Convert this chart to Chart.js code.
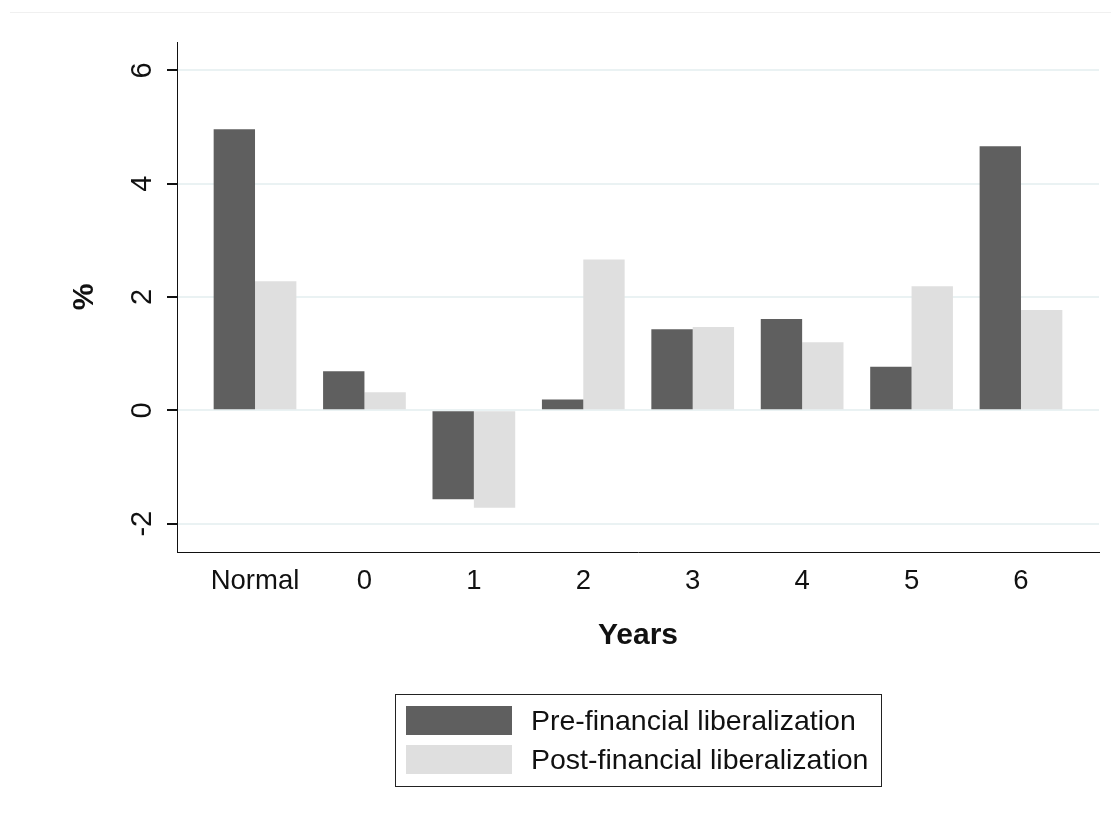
<!DOCTYPE html>
<html>
<head>
<meta charset="utf-8">
<title>Growth around financial liberalization</title>
<script src="https://cdn.jsdelivr.net/npm/chart.js@4.4.0/dist/chart.umd.min.js"></script>
<style>
    body { margin: 0; background: #fff; }
    #wrap { position: relative; width: 1111px; height: 816px; }
    #topline { position: absolute; left: 10px; right: 0; top: 12px; border-top: 1px solid #f0f0f0; }
    #legend {
        position: absolute; left: 395px; top: 694px; width: 485px; height: 91px;
        border: 1px solid #222;
        font-family: "Liberation Sans", Arial, sans-serif; font-size: 28.5px; color: #111;
    }
    .item { position: absolute; left: 10px; height: 29px; display: flex; align-items: center; white-space: nowrap; }
    .swatch { width: 106px; height: 29px; margin-right: 19px; }
</style>
</head>
<body>
<div id="wrap">
    <div id="topline"></div>
    <canvas id="chart" width="1111" height="816"></canvas>
    <div id="legend"></div>
</div>

<script>
const categories = ["Normal", "0", "1", "2", "3", "4", "5", "6"];
const preValues = [4.96, 0.69, -1.57, 0.19, 1.43, 1.61, 0.77, 4.66];
const postValues = [2.28, 0.32, -1.72, 2.66, 1.47, 1.20, 2.19, 1.77];
const yTicks = [-2, 0, 2, 4, 6];
const seriesNames = ["Pre-financial liberalization", "Post-financial liberalization"];
const seriesColors = ["#5f5f5f", "#dfdfdf"];

const font = "'Liberation Sans', Arial, sans-serif";

function toPoints(values) {
    return values.map((v, i) => ({ x: i, y: v }));
}

const ctx = document.getElementById("chart").getContext("2d");
const chart = new Chart(ctx, {
    type: "bar",
    data: {
        datasets: [
            { label: seriesNames[0], data: toPoints(preValues), backgroundColor: seriesColors[0] },
            { label: seriesNames[1], data: toPoints(postValues), backgroundColor: seriesColors[1] }
        ]
    },
    options: {
        responsive: false,
        animation: false,
        categoryPercentage: 0.756,
        barPercentage: 1.0,
        layout: { padding: { left: 0, right: 12, top: 42, bottom: 162 } },
        plugins: {
            legend: { display: false },
            tooltip: { enabled: false }
        },
        scales: {
            x: {
                type: "linear",
                min: -0.713,
                max: 7.713,
                offset: false,
                grid: { display: false },
                border: { display: true, color: "#111", width: 1 },
                afterBuildTicks: s => { s.ticks = categories.map((c, i) => ({ value: i })); },
                afterFit: s => { s.height = 102; },
                ticks: {
                    padding: 5,
                    color: "#111",
                    font: { family: font, size: 27.5 },
                    maxRotation: 0,
                    autoSkip: false,
                    callback: v => categories[v]
                },
                title: {
                    display: true,
                    text: "Years",
                    color: "#111",
                    padding: 0,
                    font: { family: font, size: 30, weight: "bold" }
                }
            },
            y: {
                min: -2.5,
                max: 6.5,
                afterBuildTicks: s => { s.ticks = yTicks.map(v => ({ value: v })); },
                afterFit: s => { s.width = 177; },
                grid: { color: "#eaf2f3", lineWidth: 2, tickColor: "#111", tickLength: 10 },
                border: { display: true, color: "#111", width: 1 },
                ticks: {
                    color: "#111",
                    padding: 11,
                    minRotation: 90,
                    maxRotation: 90,
                    crossAlign: "center",
                    font: { family: font, size: 29 }
                },
                title: {
                    display: true,
                    text: "%",
                    color: "#111",
                    padding: { top: 67 },
                    font: { family: font, size: 30, weight: "bold" }
                }
            }
        }
    }
});

// legend box below the plot, stacked like the original
const legend = document.getElementById("legend");
chart.data.datasets.forEach((ds, i) => {
    const item = document.createElement("div");
    item.className = "item";
    item.style.top = (i === 0 ? 11 : 50) + "px";
    item.innerHTML = `<span class="swatch" style="background:${ds.backgroundColor}"></span><span>${ds.label}</span>`;
    legend.appendChild(item);
});
</script>
</body>
</html>
